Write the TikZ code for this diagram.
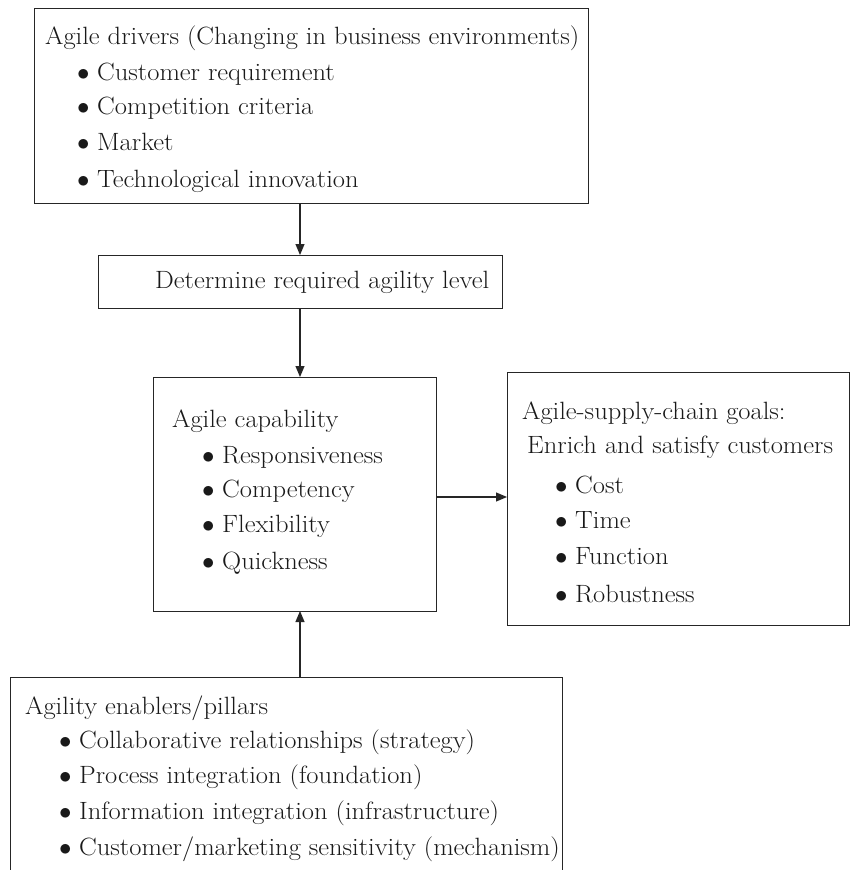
\documentclass[tikz,border=0pt]{standalone}
\usepackage{fontspec}
\setmainfont{Latin Modern Roman}[FakeStretch=1.06]
\usetikzlibrary{arrows.meta}
\begin{document}
\begin{tikzpicture}[x=1pt,y=-1pt,
  box/.style={draw=black!85,line width=1pt,inner sep=0pt,outer sep=0pt},
  txt/.style={anchor=base west,inner sep=0pt,text=black!90,font=\fontsize{25}{30}\selectfont},
  flow/.style={draw=black!85,line width=1.1pt,-{Triangle[length=11pt,width=9pt]}}]
\newcommand{\bul}{\makebox[20pt][l]{$\bullet$}}
\useasboundingbox (0,0) rectangle (850,870);
\clip (0,0) rectangle (850,870);
\fill[white] (0,0) rectangle (850,870);

% boxes
\node[box,minimum width=554pt,minimum height=195pt] (drivers) at (311,105.5) {};
\node[box,minimum width=404pt,minimum height=53pt] (level) at (300,281.5) {};
\node[box,minimum width=283pt,minimum height=234pt] (cap) at (294.5,494) {};
\node[box,minimum width=342pt,minimum height=253pt] (goals) at (678,498.5) {};
\node[box,minimum width=552pt,minimum height=240pt] (enablers) at (286,797) {};

% drivers
\node[txt] (d0) at (45,44) {Agile drivers (Changing in business environments)};
\node[txt] (d1) at (77,80) {\bul Customer requirement};
\node[txt] (d2) at (77,114) {\bul Competition criteria};
\node[txt] (d3) at (77,150) {\bul Market};
\node[txt] (d4) at (77,187) {\bul Technological innovation};

% level
\node[txt] (l0) at (155,288) {Determine required agility level};

% capability
\node[txt] (c0) at (172,427) {Agile capability};
\node[txt] (c1) at (202,463) {\bul Responsiveness};
\node[txt] (c2) at (202,497) {\bul Competency};
\node[txt] (c3) at (202,532) {\bul Flexibility};
\node[txt] (c4) at (202,569) {\bul Quickness};

% goals
\node[txt] (g0) at (522,419) {Agile-supply-chain goals:};
\node[txt] (g1) at (527,453) {Enrich and satisfy customers};
\node[txt] (g2) at (555,493) {\bul Cost};
\node[txt] (g3) at (555,528) {\bul Time};
\node[txt] (g4) at (555,564) {\bul Function};
\node[txt] (g5) at (555,602) {\bul Robustness};

% enablers
\node[txt] (e0) at (25,714) {Agility enablers/pillars};
\node[txt] (e1) at (59,748) {\bul Collaborative relationships (strategy)};
\node[txt] (e2) at (59,783) {\bul Process integration (foundation)};
\node[txt] (e3) at (59,819) {\bul Information integration (infrastructure)};
\node[txt] (e4) at (59,855) {\bul Customer/marketing sensitivity (mechanism)};

% connectors
\coordinate (gy) at (0,497);
\draw[flow] (level.north |- drivers.south) -- (level.north);
\draw[flow] (level.south) -- (level.south |- cap.north);
\draw[flow] (cap.east |- gy) -- (goals.west |- gy);
\draw[flow] (level.south |- enablers.north) -- (level.south |- cap.south);
\end{tikzpicture}
\end{document}
